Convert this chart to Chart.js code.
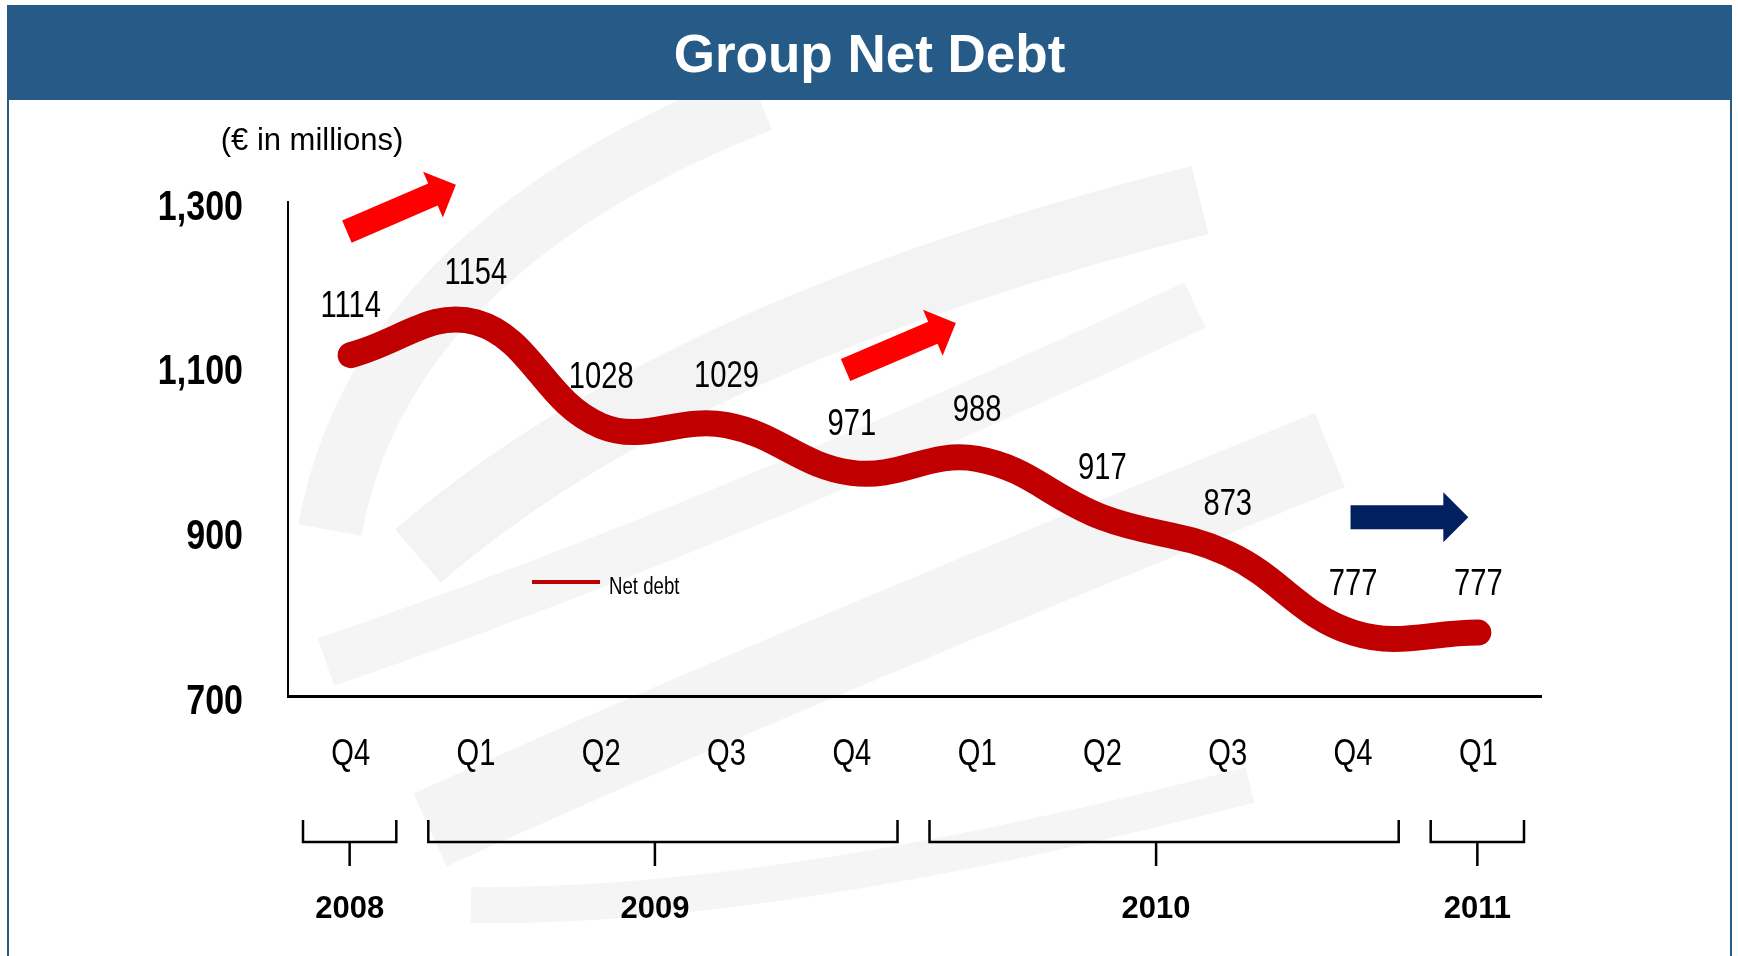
<!DOCTYPE html>
<html>
<head>
<meta charset="utf-8">
<script src="https://cdn.jsdelivr.net/npm/chart.js@4/dist/chart.umd.min.js"></script>
<style>
  body { margin: 0; background: #fff; width: 1738px; height: 956px; overflow: hidden; position: relative; }
  .frame { position: absolute; left: 7px; top: 5px; width: 1725px; height: 960px; border: 2px solid #265b88; box-sizing: border-box; }
  .titlebar { position: absolute; left: 0; top: 0; right: 0; height: 93px; background: #265b88; color: #fff;
    font: bold 53px "Liberation Sans", Arial, sans-serif; text-align: center; line-height: 93px; }
  #chart { position: absolute; left: 0; top: 0; }
</style>
</head>
<body>
<div class="frame"><div class="titlebar">Group Net Debt</div></div>
<canvas id="chart" width="1738" height="956"></canvas>
<script>
// Data
const quarters = ['Q4', 'Q1', 'Q2', 'Q3', 'Q4', 'Q1', 'Q2', 'Q3', 'Q4', 'Q1'];
const netDebt = [1114, 1154, 1028, 1029, 971, 988, 917, 873, 777, 777];
const yTicks = [700, 900, 1100, 1300];
const years = ['2008', '2009', '2010', '2011'];
const yearFirst = [0, 1, 5, 9];
const yearLast = [0, 4, 8, 9];

const SANS = '"Liberation Sans", Arial, sans-serif';
const SQUEEZE = 0.81; // no Arial Narrow here, so squeeze Liberation Sans

// arrows given as [fromIndex, fromValue, toIndex, toValue, colour]
const arrows = [
  [-0.03, 1264, 0.84, 1321, '#ff0000'],
  [3.95, 1096, 4.83, 1153, '#ff0000'],
  [7.98, 917, 8.92, 917, '#002060']
];

function narrowText(c, text, x, y, font, align) {
  c.save();
  c.font = font;
  c.textAlign = align;
  c.textBaseline = 'middle';
  c.translate(x, y);
  c.scale(SQUEEZE, 1);
  c.fillText(text, 0, 0);
  c.restore();
}

// faint grey swooshes behind the chart
const watermark = {
  id: 'watermark',
  beforeDraw(chart) {
    const c = chart.ctx;
    c.save();
    c.beginPath();
    c.rect(10, 100, 1722, 856);
    c.clip();
    c.lineCap = 'butt';
    const bands = [
      [[330, 530], [380, 250], [760, 100], 64, '#f4f4f4'],
      [[418, 556], [679, 330], [1200, 200], 70, '#f3f3f3'],
      [[326, 662], [717, 528], [1195, 305], 50, '#f5f5f5'],
      [[430, 830], [760, 680], [1330, 450], 80, '#f4f4f4'],
      [[471, 905], [775, 909], [1250, 785], 36, '#f5f5f5']
    ];
    bands.forEach(([a, b, e, w, col]) => {
      c.strokeStyle = col;
      c.lineWidth = w;
      c.beginPath();
      c.moveTo(a[0], a[1]);
      c.quadraticCurveTo(b[0], b[1], e[0], e[1]);
      c.stroke();
    });
    c.restore();
  }
};

const decorations = {
  id: 'decorations',
  afterDatasetsDraw(chart) {
    const c = chart.ctx;
    const xs = chart.scales.x, ys = chart.scales.y;
    const area = chart.chartArea;
    c.save();
    c.fillStyle = '#000';

    // tick labels, drawn from the scales
    ys.ticks.forEach(t => {
      narrowText(c, t.value.toLocaleString('en-US'), area.left - 45, ys.getPixelForValue(t.value) + 6,
        'bold 42px ' + SANS, 'right');
    });
    quarters.forEach((q, i) => {
      narrowText(c, q, xs.getPixelForValue(i), area.bottom + 59, '36px ' + SANS, 'center');
    });

    // value labels above the line
    netDebt.forEach((v, i) => {
      narrowText(c, String(v), xs.getPixelForValue(i), ys.getPixelForValue(v) - 48, '36px ' + SANS, 'center');
    });

    // unit note
    c.font = '31px ' + SANS;
    c.textAlign = 'center';
    c.textBaseline = 'middle';
    c.fillText('(\u20ac in millions)', area.left + 24, area.top - 61);

    // legend
    c.strokeStyle = '#c00000';
    c.lineWidth = 4;
    c.beginPath();
    c.moveTo(area.left + 244, area.top + 380);
    c.lineTo(area.left + 312, area.top + 380);
    c.stroke();
    narrowText(c, 'Net debt', area.left + 321, area.top + 386, '23px ' + SANS, 'left');

    // arrows
    arrows.forEach(([i0, v0, i1, v1, col]) => {
      const x0 = xs.getPixelForValue(i0), y0 = ys.getPixelForValue(v0);
      const x1 = xs.getPixelForValue(i1), y1 = ys.getPixelForValue(v1);
      const len = Math.hypot(x1 - x0, y1 - y0);
      c.save();
      c.translate(x0, y0);
      c.rotate(Math.atan2(y1 - y0, x1 - x0));
      c.fillStyle = col;
      c.beginPath();
      c.moveTo(0, -12);
      c.lineTo(len - 25, -12);
      c.lineTo(len - 25, -25);
      c.lineTo(len, 0);
      c.lineTo(len - 25, 25);
      c.lineTo(len - 25, 12);
      c.lineTo(0, 12);
      c.closePath();
      c.fill();
      c.restore();
    });

    // year brackets
    const cw = xs.width / quarters.length;
    c.strokeStyle = '#000';
    c.lineWidth = 2.5;
    c.font = 'bold 31px ' + SANS;
    c.textAlign = 'center';
    years.forEach((yr, k) => {
      const left = xs.getPixelForValue(yearFirst[k]) - cw / 2 + 15;
      const right = xs.getPixelForValue(yearLast[k]) + cw / 2 - 17;
      const mid = (left + right) / 2 - (yearLast[k] > yearFirst[k] ? 8 : 0);
      const top = area.bottom + 124, bar = area.bottom + 146;
      c.beginPath();
      c.moveTo(left, top); c.lineTo(left, bar); c.lineTo(right, bar); c.lineTo(right, top);
      c.moveTo(mid, bar); c.lineTo(mid, bar + 24);
      c.stroke();
      c.fillText(yr, mid, area.bottom + 213);
    });
    c.restore();
  }
};

new Chart(document.getElementById('chart'), {
  type: 'line',
  data: {
    labels: quarters,
    datasets: [{
      label: 'Net debt',
      data: netDebt,
      borderColor: '#c00000',
      borderWidth: 26,
      borderCapStyle: 'round',
      borderJoinStyle: 'round',
      tension: 0.4,
      pointRadius: 0,
      fill: false,
      clip: false
    }]
  },
  options: {
    responsive: false,
    animation: false,
    layout: { padding: { left: 0, right: 197, top: 202, bottom: 0 } },
    plugins: { legend: { display: false }, tooltip: { enabled: false } },
    scales: {
      x: {
        offset: true,
        grid: { display: false, drawTicks: false },
        border: { display: true, color: '#000', width: 3 },
        ticks: { display: false },
        afterFit(scale) { scale.height = 260; }
      },
      y: {
        min: 700,
        max: 1300,
        grid: { display: false, drawTicks: false },
        border: { display: true, color: '#000', width: 2 },
        afterBuildTicks(scale) { scale.ticks = yTicks.map(v => ({ value: v })); },
        ticks: { display: false },
        afterFit(scale) { scale.width = 288; }
      }
    }
  },
  plugins: [watermark, decorations]
});
</script>
</body>
</html>
